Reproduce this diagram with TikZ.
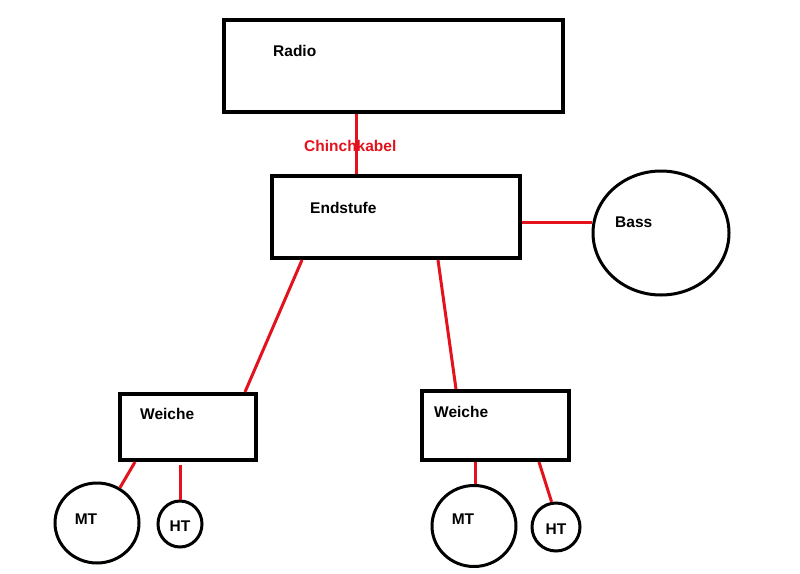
\documentclass[tikz,border=0pt]{standalone}
\usepackage{fontspec}
\setmainfont{Liberation Sans}
\usetikzlibrary{shapes.geometric}
\definecolor{cable}{RGB}{228,18,28}
\tikzset{
  box/.style={draw=black, line width=4pt, rectangle, inner sep=0pt},
  spk/.style={draw=black, line width=3pt, ellipse, inner sep=0pt},
  lbl/.style={font=\bfseries\fontsize{15.5}{17}\selectfont, inner sep=0pt},
  wire/.style={draw=cable, line width=3pt}
}
\begin{document}
\begin{tikzpicture}[x=1pt,y=-1pt]
\useasboundingbox[fill=white] (0,0) rectangle (800,573);
% boxes
\node[box, minimum width=339pt, minimum height=92pt] (radio) at (393.5,66) {};
\node[box, minimum width=248pt, minimum height=82pt] (endstufe) at (396,217) {};
\node[box, minimum width=136pt, minimum height=66pt] (weicheL) at (188,427) {};
\node[box, minimum width=147pt, minimum height=69pt] (weicheR) at (495.5,425.5) {};
% speakers
\node[spk, minimum width=136pt, minimum height=124pt] (bass) at (661,233) {};
\node[spk, minimum width=84pt, minimum height=80pt] (mtL) at (97,523) {};
\node[spk, minimum width=44pt, minimum height=46pt] (htL) at (180,524) {};
\node[spk, minimum width=84pt, minimum height=81pt] (mtR) at (474,526) {};
\node[spk, minimum width=48pt, minimum height=48pt] (htR) at (556,527) {};
% labels
\node[lbl, anchor=west] (tRadio) at (273,51) {Radio};
\node[lbl, anchor=west] (tEnd) at (310,208) {Endstufe};
\node[lbl, anchor=west, text=cable] (tChinch) at (304,146) {Chinchkabel};
\node[lbl, anchor=west] (tWL) at (140,414) {Weiche};
\node[lbl, anchor=west] (tWR) at (434,412) {Weiche};
\node[lbl, anchor=west] (tBass) at (615,222) {Bass};
\node[lbl] (tMTL) at (86,519) {MT};
\node[lbl] (tHTL) at (180,526) {HT};
\node[lbl] (tMTR) at (463,519) {MT};
\node[lbl] (tHTR) at (556,529) {HT};
% cables
\draw[wire] ([xshift=-37.5pt]radio.south) -- ([xshift=-40pt]endstufe.north);
\draw[wire] ([yshift=-5pt]endstufe.east) -- ([yshift=11pt]bass.west);
\draw[wire] ([xshift=-94pt]endstufe.south) -- ([xshift=57pt]weicheL.north);
\draw[wire] ([xshift=42pt]endstufe.south) -- ([xshift=-39.5pt]weicheR.north);
\draw[wire] ([xshift=-53pt]weicheL.south) -- (mtL.57);
\draw[wire] ([xshift=-8pt, yshift=-3pt]weicheL.south) -- (htL.north);
\draw[wire] ([xshift=-20.5pt]weicheR.south) -- ([xshift=1pt]mtR.north);
\draw[wire] ([xshift=43.5pt]weicheR.south) -- (htR.100);
\end{tikzpicture}
\end{document}
